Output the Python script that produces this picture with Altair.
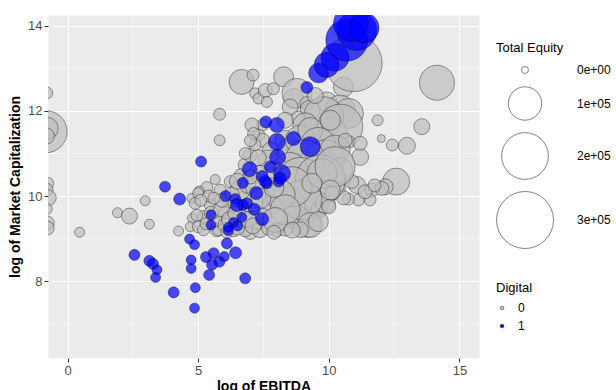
import altair as alt
import pandas as pd

FONT = "Liberation Sans"

# Non-digital firms (Digital = 0): log of EBITDA, log of market cap, total equity
ebitda_0 = [0.46, 1.91, 2.37, 2.97, 3.13, 4.25, 5.82, 5.82, 6.66, 7.10, 8.27, 7.18, 7.31, 7.57, 7.63,
            7.88, 8.65, 8.78, 9.16, 8.52, 9.29, 9.93, 10.56, 10.44, 10.75, 9.80, 11.87, 8.83, 8.33, 9.10,
            10.06, 10.44, 10.95, 14.14, 13.56, 12.99, 12.43, 12.01, 12.58, 12.16, 11.65, 11.58, 11.14,
            10.75, 10.37, 11.08, 11.20, 10.79, 11.20, 12.03, 11.39, 10.88, 10.57, 11.75,
            -0.82, -0.78, -0.81, -0.80, -0.76, -0.82, -0.74, -0.82, -0.78, -0.78,
            7.47, 7.32, 7.47, 7.76, 7.68, 8.33, 8.52, 8.91, 9.29, 9.59, 9.86, 10.24, 10.44, 9.10, 8.52,
            7.95, 8.91, 9.67, 7.37, 7.18, 10.63, 10.06, 9.48, 7.06, 7.12, 6.80, 6.99, 7.18, 6.61,
            5.65, 5.33, 5.04, 4.76, 4.89, 4.78, 4.70, 6.23, 5.84, 5.20, 5.01, 5.20, 5.72, 6.34, 6.99,
            7.37, 8.01, 8.33, 9.10, 9.16, 8.78, 9.54, 9.61, 9.86, 8.71, 8.97, 8.59, 9.74, 10.24, 10.12,
            9.35, 7.57, 7.82, 7.25, 7.50, 7.69, 6.80, 5.78, 6.61, 6.99, 8.14, 8.33, 7.95, 6.03, 6.22,
            6.61, 5.46, 5.65, 6.03, 10.06, 9.29, 8.91, 5.00, 10.00,
            5.30, 5.50, 5.90, 6.20, 6.40, 6.50, 6.90, 7.10, 5.90, 6.30, 6.50, 6.90, 7.20, 7.00, 5.40,
            6.10, 7.90, 8.60, 9.60, 7.40, 7.90, 6.80, 7.30, 7.00, 5.60, 4.95, 5.10]
mcap_0 = [9.15, 9.61, 9.53, 9.89, 9.34, 9.18, 11.92, 11.31, 12.68, 12.84, 12.80, 12.41, 12.29, 12.48, 12.21,
          12.52, 12.29, 12.41, 12.17, 12.09, 12.02, 12.21, 12.56, 12.02, 11.94, 11.86, 11.78, 11.83, 11.78, 11.66,
          11.43, 11.63, 13.12, 12.66, 11.63, 11.18, 11.20, 11.35, 10.34, 10.22, 10.14, 9.91, 9.91,
          9.93, 10.18, 10.26, 10.92, 11.27, 11.24, 10.18, 10.10, 10.34, 9.96, 10.25,
          11.51, 11.59, 11.41, 12.42, 10.30, 10.14, 9.96, 9.70, 9.37, 9.25,
          11.67, 11.43, 11.31, 11.08, 10.85, 11.31, 11.08, 11.31, 11.55, 11.20, 10.85, 11.08, 10.61, 10.85, 10.61,
          10.50, 10.38, 10.38, 10.56, 10.42, 11.31, 11.78, 12.36, 11.67, 11.47, 10.73, 10.96, 11.20, 10.50,
          10.39, 10.20, 10.12, 9.95, 9.83, 9.48, 9.28, 10.34, 10.14, 9.52, 9.28, 9.21, 9.21, 9.21, 9.17,
          9.21, 9.21, 9.25, 9.40, 9.36, 9.60, 9.83, 9.67, 9.83, 9.52, 9.91, 10.22, 10.53, 10.69, 10.07,
          10.30, 10.07, 9.79, 9.40, 9.52, 9.25, 9.21, 9.21, 9.68, 9.91, 10.03, 9.68, 9.44, 9.56, 9.91,
          10.14, 9.79, 9.44, 9.32, 10.14, 9.32, 9.21, 10.07, 9.75,
          9.35, 9.60, 9.70, 9.45, 9.60, 9.25, 9.45, 9.30, 9.90, 10.05, 10.35, 10.25, 10.20, 10.45, 10.00,
          9.15, 9.15, 9.20, 9.40, 9.95, 10.20, 11.00, 10.90, 11.30, 9.95, 9.55, 9.90]
equity_0 = [4800, 4800, 19400, 4800, 4800, 4800, 8900, 6800, 54000, 8900, 32900, 6800, 6800, 13800, 6800,
            8900, 32900, 79800, 13800, 19400, 32900, 32900, 32900, 79800, 79800, 145400, 6800, 13800, 19400, 54000,
            110300, 185300, 300000, 110300, 19400, 22500, 8900, 1400, 63800, 19400, 13800, 8900, 8900,
            8900, 13800, 22500, 22500, 8900, 13800, 13800, 13800, 13800, 13800, 11300,
            160800, 40800, 19400, 8900, 8900, 13800, 19400, 8900, 13800, 13800,
            8900, 8900, 13800, 19400, 32900, 32900, 54000, 79800, 54000, 110300, 145400, 79800, 54000, 145400, 110300,
            54000, 185300, 229800, 13800, 8900, 13800, 32900, 19400, 13800, 8900, 13800, 13800, 8900, 8900,
            4800, 8900, 4800, 4800, 8900, 4800, 4800, 8900, 8900, 8900, 8900, 8900, 13800, 13800, 19400,
            19400, 13800, 19400, 32900, 68900, 54000, 54000, 19400, 32900, 54000, 145400, 145400, 79800, 145400, 13800,
            32900, 32900, 32900, 19400, 19400, 13800, 13800, 8900, 32900, 54000, 79800, 79800, 54000, 19400, 19400,
            32900, 8900, 13800, 13800, 32900, 54000, 19400, 6800, 13800,
            8900, 13800, 19400, 19400, 13800, 13800, 19400, 19400, 13800, 13800, 19400, 19400, 32900, 13800, 8900,
            8900, 13800, 19400, 32900, 32900, 32900, 8900, 19400, 8900, 8900, 8900, 8900]

# Digital firms (Digital = 1)
ebitda_1 = [3.73, 4.29, 2.56, 3.13, 3.27, 3.42, 3.37, 4.06, 4.67, 4.86, 4.73, 4.73, 4.89, 4.86, 5.30,
            5.42, 5.53, 5.59, 5.81, 6.00, 6.10, 6.43, 6.80, 5.49, 5.49, 6.15, 6.05, 6.42, 6.35, 6.51,
            6.71, 6.48, 6.87, 7.15, 7.45, 7.22, 6.71, 7.63, 8.08, 7.59, 8.01, 8.01, 8.65, 9.29, 5.11,
            6.97, 7.76, 8.04, 8.21, 7.57, 6.67, 6.16, 7.45, 8.14, 9.16, 9.61, 9.92, 10.24, 10.69, 11.07,
            10.85, 11.35]
mcap_1 = [10.22, 9.93, 8.62, 8.48, 8.41, 8.27, 8.09, 7.74, 8.99, 8.86, 8.50, 8.30, 7.85, 7.37, 8.57,
          8.15, 8.39, 8.66, 8.46, 8.58, 8.89, 8.67, 8.07, 9.56, 9.32, 9.19, 10.00, 9.93, 9.38, 9.30,
          9.79, 9.79, 9.83, 9.69, 9.46, 10.07, 10.31, 10.30, 10.34, 11.74, 11.67, 11.27, 11.35, 11.16, 10.81,
          10.63, 10.69, 10.91, 10.53, 10.34, 9.50, 9.27, 10.46, 10.42, 12.55, 12.89, 13.08, 13.26, 13.66, 13.89,
          14.05, 13.95]
equity_1 = [6800, 8900, 6800, 6800, 6800, 4800, 4800, 6800, 4800, 4800, 4800, 4800, 4800, 4800, 6800,
            6800, 6800, 6800, 6800, 4800, 6800, 8900, 6800, 4800, 4800, 4800, 6800, 6800, 4800, 4800,
            6800, 11300, 6800, 8900, 11300, 11300, 6800, 6800, 6800, 8900, 16500, 22500, 13800, 32900, 6800,
            16500, 8900, 19400, 22500, 8900, 4800, 4800, 8900, 8900, 8900, 32900, 54000, 68900, 160800, 145400,
            110300, 79800]

x_major = [0, 5, 10, 15]
y_major = [8, 10, 12, 14]
x_minor = [2.5, 7.5, 12.5]
y_minor = [7, 9, 11, 13]
equity_breaks = [0, 100000, 200000, 300000]

df = pd.concat(
    [
        pd.DataFrame({"ebitda": ebitda_0, "mcap": mcap_0, "equity": equity_0, "Digital": "0"}),
        pd.DataFrame({"ebitda": ebitda_1, "mcap": mcap_1, "equity": equity_1, "Digital": "1"}),
    ],
    ignore_index=True,
)

x_scale = alt.Scale(domain=[-0.75, 15.75], nice=False, zero=False)
y_scale = alt.Scale(domain=[6.2, 14.25], nice=False, zero=False)
x_axis = alt.Axis(values=x_major, title="log of EBITDA", titlePadding=2)
y_axis = alt.Axis(values=y_major, title="log of Market Capitalization", titlePadding=5)

# thin white minor grid lines, sharing the position channels of the scatter
minor_v = alt.Chart(pd.DataFrame({"ebitda": x_minor})).mark_rule(color="white", strokeWidth=0.55).encode(
    x=alt.X("ebitda:Q", scale=x_scale, axis=x_axis)
)
minor_h = alt.Chart(pd.DataFrame({"mcap": y_minor})).mark_rule(color="white", strokeWidth=0.55).encode(
    y=alt.Y("mcap:Q", scale=y_scale, axis=y_axis)
)

points = alt.Chart(df).mark_circle(
    clip=True, stroke="black", strokeWidth=0.5, strokeOpacity=0.75, fillOpacity=0.7
).encode(
    x=alt.X("ebitda:Q", scale=x_scale, axis=x_axis),
    y=alt.Y("mcap:Q", scale=y_scale, axis=y_axis),
    size=alt.Size(
        "equity:Q",
        scale=alt.Scale(domain=[0, 300000], range=[49, 3249]),
        legend=alt.Legend(
            title="Total Equity", values=equity_breaks,
            labelExpr="replace(format(datum.value, '.0e'), '+', '+0')",
            orient="none", legendX=448, legendY=27, titlePadding=9,
            symbolFillColor="transparent", symbolStrokeColor="#333333", symbolStrokeWidth=0.6,
            rowPadding=9, labelOffset=23,
        ),
    ),
    fill=alt.Fill(
        "Digital:N",
        scale=alt.Scale(domain=["0", "1"], range=["#BEBEBE", "#0000FF"]),
        legend=alt.Legend(
            title="Digital", orient="none", legendX=448, legendY=267, titlePadding=7,
            symbolSize=14, symbolStrokeColor="#333333", symbolStrokeWidth=0.5,
            rowPadding=6, labelOffset=10,
        ),
    ),
)

chart = alt.layer(minor_v, minor_h, points).properties(
    width=431, height=343,
    padding={"left": 48, "top": 15, "right": 137, "bottom": 32},
    autosize=alt.AutoSizeParams(type="none"),
    background="white",
).configure_view(
    fill="#EBEBEB", stroke="transparent"
).configure_axis(
    grid=True, gridColor="white", gridWidth=1.1, domain=False,
    tickColor="#333333", tickSize=4, tickWidth=1,
    labelColor="#4D4D4D", labelFontSize=13, labelPadding=2, labelFont=FONT,
    titleColor="black", titleFontSize=14, titleFontWeight="bold", titleFont=FONT,
).configure_legend(
    titleFont=FONT, labelFont=FONT, titleFontSize=13, titleFontWeight="normal",
    labelFontSize=12, titleColor="black", labelColor="black",
)

chart.save("out.html", embed_options={"renderer": "svg", "actions": False})
